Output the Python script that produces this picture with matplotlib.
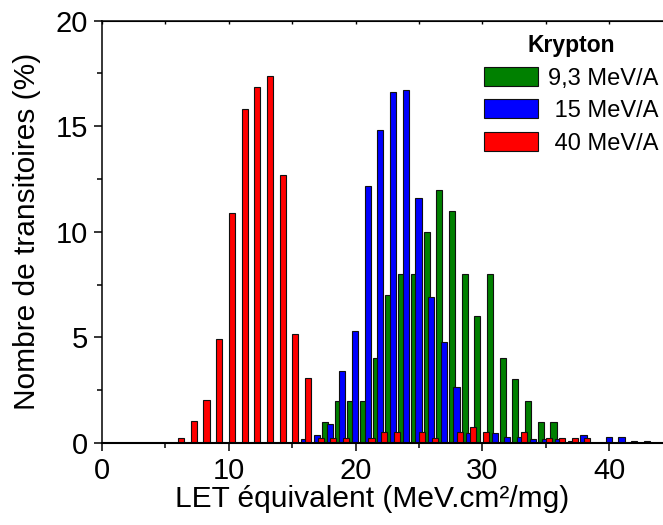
import matplotlib
matplotlib.use("Agg")
import matplotlib.pyplot as plt
from matplotlib.ticker import MultipleLocator
import numpy as np

plt.rcParams['font.family'] = ['Liberation Sans', 'DejaVu Sans']

# ---- data (percent of transients per LET bin) ----
bins_93 = list(range(18, 37))
kr_93 = [1, 2, 2, 2, 4, 7, 8, 8, 10, 12, 11, 8, 6, 8, 4, 3, 2, 1, 1]

bins_15 = list(range(16, 44))
kr_15 = [0.2, 0.36, 0.87, 3.39, 5.29, 12.19, 14.82, 16.61, 16.72, 11.59, 6.89,
         4.78, 2.66, 0.47, 0.0, 0.47, 0.28, 0.28, 0.19, 0.19, 0.19, 0.08, 0.36,
         0.0, 0.28, 0.28, 0.08, 0.08]

bins_40 = list(range(6, 39))
kr_40 = [0.22, 1.03, 2.04, 4.91, 10.88, 15.82, 16.85, 17.37, 12.68, 5.16, 3.09,
         0.22, 0.22, 0.24, 0.0, 0.24, 0.49, 0.49, 0.0, 0.49, 0.24, 0.0, 0.49,
         0.74, 0.49, 0.0, 0.0, 0.49, 0.0, 0.24, 0.24, 0.24, 0.24]

labels = ["9,3 MeV/A", " 15 MeV/A", " 40 MeV/A"]
legend_title = "Krypton"
xlabel = "LET équivalent (MeV.cm²/mg)"
ylabel = "Nombre de transitoires (%)"

# ---- figure ----
W, H = 663, 525
fig = plt.figure(figsize=(W / 100, H / 100), dpi=100)
left_px, right_px, top_px, bot_px = 101.7, 672.8, 20.7, 442.8
ax = fig.add_axes([left_px / W, 1 - bot_px / H, (right_px - left_px) / W,
                   (bot_px - top_px) / H])

bw = 0.48
ec = '#101010'
lw = 0.8
ax.bar(np.array(bins_93) - 0.40, kr_93, width=bw, color='#008000',
       edgecolor=ec, linewidth=lw, label=labels[0], zorder=2)
ax.bar(np.array(bins_15) - 0.04, kr_15, width=bw, color='#0000FF',
       edgecolor=ec, linewidth=lw, label=labels[1], zorder=3)
ax.bar(np.array(bins_40) + 0.26, kr_40, width=bw, color='#FF0000',
       edgecolor=ec, linewidth=lw, label=labels[2], zorder=4)

ax.set_xlim(0, 45)
ax.set_ylim(0, 20)
ax.xaxis.set_major_locator(MultipleLocator(10))
ax.xaxis.set_minor_locator(MultipleLocator(5))
ax.yaxis.set_major_locator(MultipleLocator(5))
ax.yaxis.set_minor_locator(MultipleLocator(2.5))

for s in ['left', 'top', 'right']:
    ax.spines[s].set_linewidth(1.1)
ax.spines['bottom'].set_linewidth(1.5)
ax.spines['bottom'].set_zorder(5)

ax.tick_params(axis='both', which='major', direction='out', length=6,
               width=1.1, labelsize=21, pad=4, top=False, right=False)
ax.tick_params(axis='both', which='minor', direction='out', length=3.5,
               width=1.1, top=False, right=False)

sec = ax.secondary_xaxis('top')
sec.xaxis.set_major_locator(MultipleLocator(5))
sec.tick_params(axis='x', which='major', direction='in', length=2.5,
                width=1.0, labeltop=False)

ax.set_xlabel(xlabel, fontsize=21.5)
ax.set_ylabel(ylabel, fontsize=21.5)
ax.xaxis.set_label_coords((372 - left_px) / (right_px - left_px),
                          -(507 - bot_px) / (bot_px - top_px))
ax.yaxis.set_label_coords(-(101.7 - 27) / (right_px - left_px), 0.5)
ax.xaxis.label.set_va('baseline')
ax.yaxis.label.set_va('center')

leg = ax.legend(loc='upper right', bbox_to_anchor=(659 / W, 1 - 34 / H),
                bbox_transform=fig.transFigure, frameon=False,
                fontsize=17, title=legend_title,
                title_fontproperties={'weight': 'bold', 'size': 16.5},
                handlelength=2.3, handleheight=0.85, handletextpad=0.45,
                labelspacing=0.42, borderpad=0, borderaxespad=0)

fig.savefig("out.png", dpi=100)
